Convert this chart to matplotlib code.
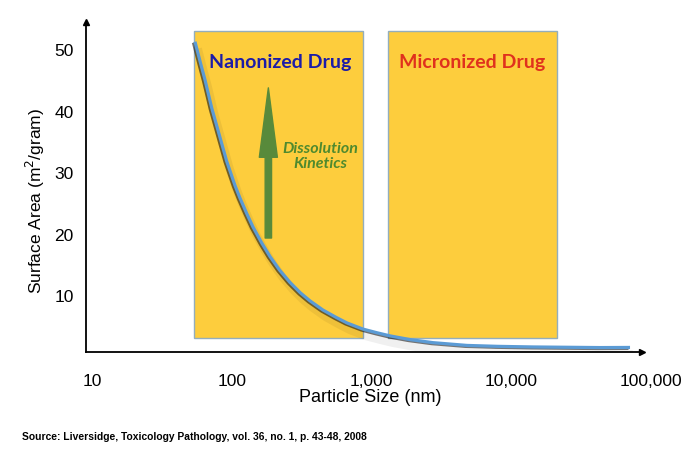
import matplotlib
matplotlib.use("Agg")
import matplotlib.pyplot as plt
import matplotlib.patheffects as pe
from matplotlib.patches import Rectangle

# ---- data ----
size_nm = [54.6, 60, 64.4, 72, 79.8, 92, 105.7, 114.6, 128, 142, 165, 188, 220, 261,
           310, 363, 450, 560, 669, 871, 1100, 1360, 1890, 2760, 4830, 8000,
           14400, 25000, 43300, 71000]
surface_area = [51.4, 47.8, 45.2, 40.6, 37.0, 32.0, 28.0, 26.0, 23.5, 21.3, 18.6, 16.5,
                14.3, 12.3, 10.6, 9.3, 7.8, 6.6, 5.7, 4.7, 4.1, 3.6, 3.0, 2.5, 2.05,
                1.9, 1.8, 1.75, 1.7, 1.72]

x_ticks = [10, 100, 1000, 10000, 100000]
x_ticklabels = ["10", "100", "1,000", "10,000", "100,000"]
y_ticks = [10, 20, 30, 40, 50]

regions = ["Nanonized Drug", "Micronized Drug"]
region_x = [(53.7, 871), (1315, 21300)]
region_y = (3.25, 53.2)
region_text_color = ["#1c1ca8", "#e0311d"]
region_text_x = [222, 5250]
region_text_y = 48.1

arrow_x = 183
arrow_y = (19.5, 43.9)
arrow_label = "Dissolution\nKinetics"
arrow_label_pos = (429, 32.8)

x_label = "Particle Size (nm)"
y_label = "Surface Area (m$^2$/gram)"
source = "Source: Liversidge, Toxicology Pathology, vol. 36, no. 1, p. 43-48, 2008"

# ---- figure ----
plt.rcParams['font.family'] = ['Liberation Sans', 'DejaVu Sans']
fig = plt.figure(figsize=(7, 4.58), dpi=100)
W, H = 700, 458
x0, x1 = 9.06, 110000
y0, y1 = 0.98, 54.6
ax_left_px, ax_right_px = 86, 92 + 139.7 * 4.0414
ax_bot_px, ax_top_px = 352, 22
ax = fig.add_axes([ax_left_px / W, 1 - ax_bot_px / H,
                   (ax_right_px - ax_left_px) / W, (ax_bot_px - ax_top_px) / H])
ax.set_xscale('log')
ax.set_xlim(x0, x1)
ax.set_ylim(y0, y1)

for s in ['top', 'right']:
    ax.spines[s].set_visible(False)
ax.spines['left'].set_linewidth(1.3)
ax.spines['bottom'].set_linewidth(1.3)
ax.spines['bottom'].set_bounds(x0, 86500)
ax.plot([86500], [y0], marker='>', color='black', markersize=4, clip_on=False)
ax.plot([x0], [y1], marker='^', color='black', markersize=4, clip_on=False)

ax.set_xticks(x_ticks)
ax.set_xticklabels(x_ticklabels)
ax.xaxis.set_minor_locator(matplotlib.ticker.NullLocator())
ax.set_yticks(y_ticks)
ax.tick_params(axis='both', length=0, labelsize=12.5)
ax.tick_params(axis='x', pad=15.5)
ax.tick_params(axis='y', pad=9)

# region boxes
for name, (a, b), tc, tx in zip(regions, region_x, region_text_color, region_text_x):
    ax.add_patch(Rectangle((a, region_y[0]), b - a, region_y[1] - region_y[0],
                           facecolor='#fdcd3d', edgecolor='#93aebd', linewidth=1.0, zorder=1))
    ax.text(tx, region_text_y, name, color=tc, fontsize=14, fontweight='bold',
            family=['Lato', 'DejaVu Sans'], ha='center', va='center', zorder=4)

# curve with shadow
ax.plot(size_nm, surface_area, color='#5b9bd5', linewidth=2.3, zorder=3,
        solid_capstyle='butt',
        path_effects=[pe.SimpleLineShadow(offset=(2, -5), shadow_color='#000000', alpha=0.06, linewidth=6),
                      pe.SimpleLineShadow(offset=(-1.1, -0.7), shadow_color='#1a1a1a', alpha=0.6),
                      pe.Normal()])

# dissolution arrow
ax.annotate('', xy=(arrow_x, arrow_y[1]), xytext=(arrow_x, arrow_y[0]),
            arrowprops=dict(arrowstyle='simple,head_length=2.5,head_width=0.65,tail_width=0.23',
                            color='#588a3b', shrinkA=0, shrinkB=0, mutation_scale=20), zorder=3)
ax.text(arrow_label_pos[0], arrow_label_pos[1], arrow_label, color='#4f8a2e', fontsize=11.5,
        fontweight='bold', fontstyle='italic', family=['Lato', 'DejaVu Sans'],
        ha='center', va='center', linespacing=1.1, zorder=4)

fig.text(370 / W, 1 - 397 / H, x_label, fontsize=13, ha='center', va='center')
fig.text(35 / W, 1 - 201 / H, y_label, fontsize=12.5, ha='center', va='center', rotation=90)
fig.text(22 / W, 1 - 437 / H, source, fontsize=7.4, fontweight='bold',
         family=['Liberation Sans Narrow', 'Liberation Sans'], ha='left', va='center')

fig.savefig('out.png', dpi=100)
